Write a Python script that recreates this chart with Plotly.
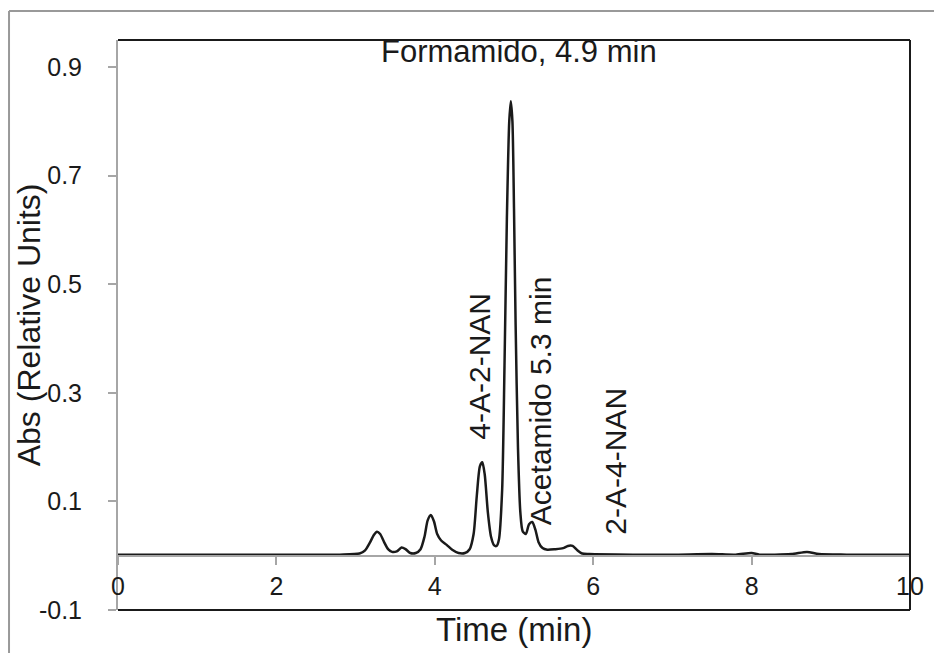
import plotly.graph_objects as go

# Chromatogram: time (min) and absorbance
time_min = [0.0, 1.0, 2.0, 2.8, 3.05, 3.12, 3.18, 3.23, 3.27, 3.31, 3.36, 3.41, 3.46,
            3.52, 3.58, 3.63, 3.69, 3.76, 3.82, 3.87, 3.91, 3.95, 3.99, 4.03, 4.08,
            4.15, 4.22, 4.30, 4.38, 4.44, 4.49, 4.53, 4.57, 4.60, 4.63, 4.67, 4.71,
            4.75, 4.78, 4.81, 4.85, 4.88, 4.91, 4.94, 4.96, 4.98, 5.00, 5.02, 5.05,
            5.08, 5.11, 5.15, 5.19, 5.23, 5.27, 5.31, 5.36, 5.42, 5.52, 5.62, 5.68,
            5.74, 5.80, 5.86, 5.95, 6.5, 7.0, 7.5, 7.8, 8.0, 8.1, 8.5, 8.7, 8.85,
            9.2, 10.0]
absorbance = [0.002, 0.002, 0.002, 0.002, 0.004, 0.010, 0.024, 0.038, 0.044, 0.040,
              0.025, 0.012, 0.007, 0.008, 0.015, 0.012, 0.005, 0.005, 0.012, 0.035,
              0.065, 0.075, 0.063, 0.040, 0.028, 0.020, 0.011, 0.005, 0.005, 0.012,
              0.040, 0.110, 0.165, 0.172, 0.150, 0.080, 0.035, 0.019, 0.018, 0.030,
              0.120, 0.350, 0.620, 0.800, 0.837, 0.800, 0.640, 0.430, 0.200, 0.080,
              0.045, 0.040, 0.058, 0.062, 0.048, 0.025, 0.014, 0.011, 0.012, 0.014,
              0.018, 0.018, 0.010, 0.004, 0.003, 0.002, 0.002, 0.003, 0.002, 0.005,
              0.002, 0.003, 0.007, 0.003, 0.002, 0.002]

x_ticks = [0, 2, 4, 6, 8, 10]
y_ticks = [-0.1, 0.1, 0.3, 0.5, 0.7, 0.9]
y_tick_text = ["-0.1", "0.1", "0.3", "0.5", "0.7", "0.9"]

peak_labels = ["Formamido, 4.9 min", "4-A-2-NAN", "Acetamido 5.3 min", "2-A-4-NAN"]
peak_label_x = [5.06, 4.57, 5.33, 6.28]
peak_label_y = [0.928, 0.35, 0.285, 0.174]
peak_label_angle = [0, -90, -90, -90]
peak_label_size = [31, 30, 30, 30]

FONT = "Liberation Sans, Arial, sans-serif"
TXT = "#1a1a1a"
Y_MIN, Y_MAX = -0.1, 0.95

fig = go.Figure()
fig.add_trace(go.Scatter(
    x=time_min, y=absorbance, mode="lines",
    line=dict(color=TXT, width=2.5, shape="spline", smoothing=0.7),
    hoverinfo="skip", showlegend=False,
))

for txt, xx, yy, ang, sz in zip(peak_labels, peak_label_x, peak_label_y,
                                peak_label_angle, peak_label_size):
    fig.add_annotation(x=xx, y=yy, text=txt, textangle=ang, showarrow=False,
                       xanchor="center", yanchor="middle",
                       font=dict(family=FONT, size=sz, color=TXT))

# axis titles
fig.add_annotation(xref="paper", yref="paper", x=0.5, y=-0.035, text="Time (min)",
                   showarrow=False, xanchor="center", yanchor="middle",
                   font=dict(family=FONT, size=33, color=TXT))
fig.add_annotation(xref="paper", yref="paper", x=-0.112, y=0.50,
                   text="Abs (Relative Units)", textangle=-90, showarrow=False,
                   xanchor="center", yanchor="middle",
                   font=dict(family=FONT, size=32, color=TXT))

shapes = [
    # black frame: top, right, bottom
    dict(type="line", xref="paper", yref="paper", x0=0, x1=1, y0=1, y1=1,
         line=dict(color=TXT, width=2)),
    dict(type="line", xref="paper", yref="paper", x0=1, x1=1, y0=0, y1=1,
         line=dict(color=TXT, width=2)),
    dict(type="line", xref="paper", yref="paper", x0=0, x1=1, y0=0, y1=0,
         line=dict(color=TXT, width=2)),
    # outer gray border (top and left)
    dict(type="line", xref="paper", yref="paper", x0=-0.1376, x1=1.06, y0=1.0509, y1=1.0509,
         line=dict(color="#999999", width=2)),
    dict(type="line", xref="paper", yref="paper", x0=-0.1376, x1=-0.1376, y0=-0.1, y1=1.0509,
         line=dict(color="#999999", width=2)),
]

fig.update_layout(
    width=942, height=653,
    margin=dict(l=110, r=40, t=32, b=51),
    paper_bgcolor="white", plot_bgcolor="white",
    font=dict(family=FONT, color=TXT),
    shapes=shapes,
    xaxis=dict(range=[0, 10], tickvals=x_ticks, ticktext=[str(v) for v in x_ticks],
               showgrid=False, zeroline=False, showline=True, linecolor="#a6a6a6",
               linewidth=2, ticks="outside", ticklen=8, tickcolor="#a6a6a6", tickwidth=2,
               anchor="free", position=(0 - Y_MIN) / (Y_MAX - Y_MIN),
               tickfont=dict(family=FONT, size=25, color=TXT)),
    yaxis=dict(range=[Y_MIN, Y_MAX], tickvals=y_ticks, ticktext=y_tick_text,
               showgrid=False, zeroline=False, showline=True, linecolor="#a6a6a6",
               linewidth=2, ticks="outside", ticklen=8, tickcolor="#a6a6a6", tickwidth=2,
               ticklabelstandoff=21,
               tickfont=dict(family=FONT, size=25, color=TXT)),
)

fig.write_html("out.html")
